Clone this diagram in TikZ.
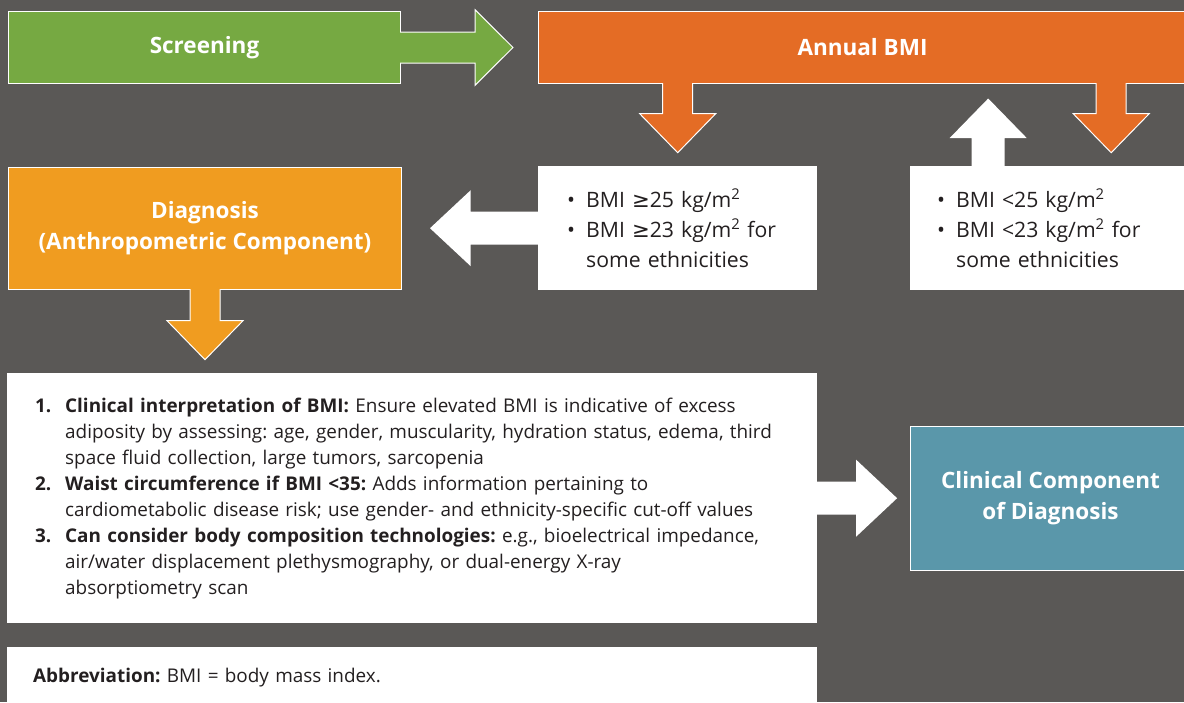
\documentclass[tikz,border=0pt]{standalone}
\usepackage{fontspec}
\setmainfont{Open Sans}
\newfontfamily\symfont{DejaVu Sans}
\definecolor{bgc}{HTML}{5A5856}
\definecolor{greenc}{HTML}{76A942}
\definecolor{orangec}{HTML}{E46C25}
\definecolor{amberc}{HTML}{F09C20}
\definecolor{tealc}{HTML}{5A97AA}
\definecolor{inkc}{HTML}{231F20}
\tikzset{
  titlebox/.style={rectangle, draw=white, line width=1pt, text=white, align=center,
    inner sep=0pt, anchor=north west, font=\fontsize{22.5}{31}\selectfont\bfseries},
  notebox/.style={rectangle, fill=white, text=inkc, align=left, anchor=north west,
    inner ysep=0pt, font=\fontsize{21.2}{30}\selectfont},
  listbox/.style={notebox, inner xsep=28pt, text width=754pt,
    font=\fontsize{18.9}{26}\selectfont},
  blockarrow/.style={draw=white, line width=1pt, line join=miter},
}
\newcommand{\bul}{\makebox[19pt][l]{\textbullet}}
\newcommand{\num}[1]{\makebox[30pt][l]{\textbf{#1}}}
\newcommand{\atleast}{{\symfont ≥}}
\frenchspacing
\begin{document}
\begin{tikzpicture}[x=1pt,y=-1pt]
\useasboundingbox[fill=bgc] (0,0) rectangle (1184,702);

\node[titlebox, fill=greenc, minimum width=392, minimum height=72] (screen) at (8,11) {Screening};
\node[titlebox, fill=orangec, minimum width=648, minimum height=72] (annual) at (538,11) {Annual BMI};
\node[titlebox, fill=amberc, minimum width=393, minimum height=122] (diag) at (8,167) {Diagnosis\\(Anthropometric Component)};
\node[notebox, inner xsep=29pt, text width=221pt, minimum height=124] (high) at (538,166)
  {\bul BMI \atleast25 kg/m\textsuperscript{2}\\ \bul BMI \atleast23 kg/m\textsuperscript{2} for\\ \hspace*{19pt}some ethnicities};
\node[notebox, inner xsep=27pt, text width=226pt, minimum height=124] (low) at (910,166)
  {\bul BMI <25 kg/m\textsuperscript{2}\\ \bul BMI <23 kg/m\textsuperscript{2} for\\ \hspace*{19pt}some ethnicities};
\node[listbox, minimum height=250] (crit) at (7,373)
  {\num{1.}\textbf{Clinical interpretation of BMI:} Ensure elevated BMI is indicative of excess\\
   \hspace*{30pt}adiposity by assessing: age, gender, muscularity, hydration status, edema, third\\
   \hspace*{30pt}space fluid collection, large tumors, sarcopenia\\
   \num{2.}\textbf{Waist circumference if BMI <35:} Adds information pertaining to\\
   \hspace*{30pt}cardiometabolic disease risk; use gender- and ethnicity-specific cut-off values\\
   \num{3.}\textbf{Can consider body composition technologies:} e.g., bioelectrical impedance,\\
   \hspace*{30pt}air/water displacement plethysmography, or dual-energy X-ray\\
   \hspace*{30pt}absorptiometry scan};
\node[titlebox, fill=tealc, minimum width=280, minimum height=144] (clin) at (910,426) {Clinical Component\\of Diagnosis};
\node[listbox, inner xsep=26pt, text width=758pt, minimum height=60] (abbr) at (7,647)
  {\textbf{Abbreviation:} BMI = body mass index.};

\draw[blockarrow, fill=greenc] (screen.east) ++(-1,-15.5) -- ++(75,0) -- ++(0,-22.3) -- ++(38,37.8)
  -- ++(-38,37.8) -- ++(0,-22.3) -- ++(-75,0);
\draw[blockarrow, fill=orangec] (annual.south -| high.north) ++(-15,-1) -- ++(0,30.7) -- ++(-23,0)
  -- ++(38,39) -- ++(38,-39) -- ++(-23,0) -- ++(0,-30.7);
\draw[blockarrow, fill=orangec] (annual.south -| low.north) ++(46,-1) -- ++(0,30.7) -- ++(-23,0)
  -- ++(38,39) -- ++(38,-39) -- ++(-23,0) -- ++(0,-30.7);
\draw[blockarrow, fill=amberc] (diag.south) ++(-15,-1) -- ++(0,31.7) -- ++(-23,0)
  -- ++(38,39) -- ++(38,-39) -- ++(-23,0) -- ++(0,-31.7);
\fill[white] (low.north) ++(-78.5,1) -- ++(0,-29) -- ++(-22,0) -- ++(38.5,-39.5)
  -- ++(38.5,39.5) -- ++(-22,0) -- ++(0,29) -- cycle;
\fill[white] (high.west) ++(1,-16.5) -- ++(-68.3,0) -- ++(0,-21.5) -- ++(-40.7,38)
  -- ++(40.7,38) -- ++(0,-21.5) -- ++(68.3,0) -- cycle;
\fill[white] (crit.east) ++(-1,-16.5) -- ++(39.7,0) -- ++(0,-22) -- ++(41,38.5)
  -- ++(-41,38.5) -- ++(0,-22) -- ++(-39.7,0) -- cycle;
\end{tikzpicture}
\end{document}
